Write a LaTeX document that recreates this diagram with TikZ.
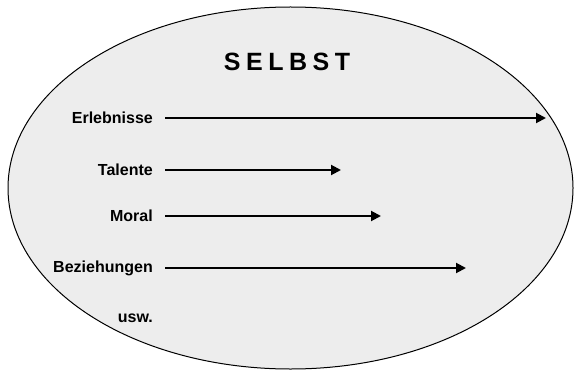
\documentclass[tikz,border=0pt]{standalone}
\usepackage{fontspec}
\setmainfont{Liberation Sans}
\usetikzlibrary{arrows.meta}
\definecolor{Ink}{HTML}{000000}
\definecolor{Haze}{HTML}{EDEDED}
\tikzset{
  facet/.style={
    anchor=east, inner sep=0pt, text=Ink,
    font=\fontsize{16}{18}\selectfont\bfseries
  },
  title/.style={
    inner sep=0pt, text=Ink,
    font=\fontsize{25}{27}\selectfont\bfseries\addfontfeature{LetterSpace=22}
  },
  growth/.style={-{Triangle[length=10pt,width=10pt]}, line width=2pt, draw=Ink}
}
\begin{document}
\begin{tikzpicture}[x=1pt,y=1pt]
    \useasboundingbox (0,0) rectangle (577,378);
    \draw[fill=Haze,draw=Ink,line width=1pt] (290.5,190) ellipse [x radius=282.5,y radius=181];
    \node[title] (self) at (287,316) {SELBST};
    \node[facet] (exp) at (153,260) {Erlebnisse};
    \node[facet] (tal) at (153,208) {Talente};
    \node[facet] (mor) at (153,162) {Moral};
    \node[facet] (rel) at (153,110) {Beziehungen};
    \node[facet] (etc) at (153,60) {usw.};
    \coordinate (expend) at (546,260);
    \coordinate (talend) at (341,208);
    \coordinate (morend) at (381,162);
    \coordinate (relend) at (466,110);
    \draw[growth] ([xshift=12pt]exp.east)--(expend);
    \draw[growth] ([xshift=12pt]tal.east)--(talend);
    \draw[growth] ([xshift=12pt]mor.east)--(morend);
    \draw[growth] ([xshift=12pt]rel.east)--(relend);
\end{tikzpicture}
\end{document}
